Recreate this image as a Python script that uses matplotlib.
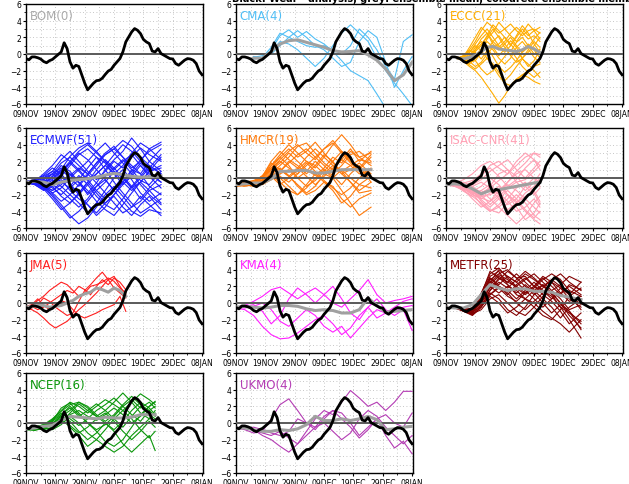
import matplotlib
matplotlib.use('Agg')
import matplotlib.pyplot as plt
from matplotlib.ticker import MultipleLocator

# analysis (black line), one value per day starting 09NOV
analysis = [-0.55, -0.7, -0.35, -0.35, -0.45, -0.6, -0.9, -1.05, -0.8, -0.65,
            -0.35, -0.05, 0.25, 1.35, 0.65, -0.95, -1.7, -1.35, -1.5, -2.5,
            -3.5, -4.3, -3.9, -3.5, -3.2, -3.15, -2.9, -2.45, -2.05, -1.85,
            -1.35, -0.95, -0.55, 0.25, 1.45, 2.05, 2.65, 3.05, 2.85, 2.45,
            1.75, 1.45, 1.25, 0.35, 0.25, 0.65, 0.05, -0.15, -0.35, -0.55,
            -0.6, -1.15, -1.35, -1.05, -0.75, -0.55, -0.6, -0.75, -1.15, -2.05, -2.5]
date_labels = ['09NOV', '19NOV', '29NOV', '09DEC', '19DEC', '29DEC', '08JAN']
date_pos = [0, 10, 20, 30, 40, 50, 60]

# CMA
cma_days = [6, 9, 12, 15, 18, 21, 24, 27, 30, 33, 36, 39, 42, 45, 48, 51, 54, 57, 60]
cma_mean = [-0.5, -0.5, 0.3, 1.2, 1.6, 1.7, 1.4, 1.1, 0.8, 0.4, 0.25, 0.3, 0.4, -0.1, -0.75, -1.8, -3.2, -2.5, -1.0]
cma_members = [
    [-0.5, -0.6, 0.5, 2.2, 2.9, 2.0, 2.7, 1.8, 1.2, 0.3, -0.8, -2.0, -2.6, -3.2, -4.8, -6.5, -7.0, -7.0, -7.0],
    [-0.3, -0.5, 0.3, 1.5, 1.2, 0.5, -0.5, -1.5, -0.5, 1.0, 2.5, 3.5, 2.5, 1.5, -0.5, -2.0, -3.5, -4.8, -6.2],
    [-0.6, -0.4, 0.8, 2.5, 2.0, 2.8, 2.0, 1.0, 0.5, -0.5, -1.5, -1.0, 1.5, 2.8, 2.0, -1.0, -4.0, -2.0, -0.3],
    [-0.4, -0.2, 0.0, 1.0, 2.0, 1.5, 1.0, 0.8, 1.0, 0.5, 0.0, 1.0, 3.0, 2.0, 0.5, -1.5, -3.0, 1.5, 2.3],
]

# ECCC
eccc_days = [4, 6, 8, 10, 12, 14, 16, 18, 20, 22, 24, 26, 28, 30, 32]
eccc_mean = [-0.5, -0.6, -0.4, -0.2, 0.3, 0.8, 0.9, 0.6, 0.5, 0.4, 0.3, 0.5, 0.9, 0.6, 0.2]
eccc_members = [
    [-0.5, -0.2, 0.5, 1.5, 2.8, 3.8, 3.2, 2.5, 3.0, 3.6, 2.8, 2.2, 2.8, 3.0, 2.5],
    [-0.6, -0.8, -0.3, 0.5, 1.8, 2.5, 1.5, 0.8, 1.5, 2.5, 3.2, 2.6, 1.8, 2.2, 1.5],
    [-0.4, -0.5, -1.0, -0.8, 0.2, 1.0, 0.5, -0.5, -1.2, -0.5, 0.8, 1.5, 0.6, -0.4, -1.0],
    [-0.5, -0.9, -1.5, -2.0, -2.8, -3.8, -4.8, -5.9, -5.0, -3.8, -3.0, -2.5, -2.0, -1.5, -1.2],
    [-0.6, -0.4, 0.2, 1.0, 0.4, -0.5, -1.5, -2.6, -3.5, -3.8, -3.2, -2.5, -2.8, -3.3, -3.6],
    [-0.5, -0.3, 0.8, 2.0, 3.2, 2.5, 1.2, 0.5, 1.2, 2.0, 1.0, 0.2, 0.8, 1.8, 2.6],
    [-0.4, -0.6, -0.2, 0.8, 1.5, 0.8, -0.3, -1.5, -2.2, -1.6, -0.8, 0.3, 1.2, 0.5, -0.5],
    [-0.5, -0.7, -1.2, -0.5, 0.5, 1.8, 2.6, 3.8, 3.0, 2.2, 1.5, 2.5, 3.6, 2.8, 1.8],
    [-0.6, -0.5, 0.0, -0.8, -1.8, -2.5, -2.0, -1.2, -0.3, 0.5, -0.5, -1.5, -2.2, -2.8, -2.2],
    [-0.5, -0.2, 0.4, 0.2, -0.6, 0.4, 1.5, 2.2, 1.2, 0.3, 1.4, 2.0, 1.0, 0.0, 0.6],
    [-0.4, -0.8, -0.5, 0.5, 1.2, 2.0, 3.0, 2.0, 0.8, -0.2, -1.0, -0.5, 0.5, 1.5, 0.8],
    [-0.5, -0.4, -0.9, -1.5, -1.0, 0.0, 0.8, 1.2, 2.0, 1.2, 0.3, -0.5, 0.2, 1.0, 2.0],
    [-0.5, -0.3, 0.2, 1.2, 2.2, 3.0, 2.0, 1.0, 0.2, 1.0, 2.2, 3.4, 2.5, 1.2, 0.2],
    [-0.6, -0.7, -0.8, -0.2, 0.6, 1.5, 0.8, -0.2, 0.6, 1.6, 0.8, -0.5, -1.5, -0.8, 0.5],
    [-0.4, -0.5, -0.2, 0.3, 1.0, 2.2, 3.5, 2.8, 2.0, 1.0, 2.0, 3.0, 2.2, 2.8, 3.2],
    [-0.5, -0.8, -1.3, -1.8, -1.2, -0.5, -1.2, -2.2, -3.2, -2.5, -1.5, -0.6, -1.2, -2.0, -2.8],
]

# ECMWF
ecmwf_days = [0, 3, 6, 9, 12, 15, 18, 21, 24, 27, 30, 33, 36, 39, 42, 46]
ecmwf_mean = [-0.5, -0.4, -0.5, -0.8, -0.5, -0.3, -0.2, -0.1, 0.1, 0.35, 0.55, 0.4, 0.2, 0.1, 0.15, 0.25]
ecmwf_members = [
    [-0.5, -0.3, -0.5, 0.5, 1.8, 2.5, 1.5, 0.5, 1.8, 3.0, 3.8, 2.5, 1.2, 2.0, 3.5, 4.3],
    [-0.5, -0.6, -1.2, -2.0, -3.2, -4.5, -5.5, -4.8, -3.5, -2.0, -1.0, -2.2, -3.5, -2.8, -1.5, -0.8],
    [-0.4, -0.2, 0.3, 1.2, 0.5, -0.8, -1.8, -0.5, 1.0, 2.2, 1.2, 0.0, -1.2, -0.5, 0.8, 1.5],
    [-0.6, -0.8, -1.5, -1.0, 0.2, 1.5, 2.8, 3.5, 2.5, 1.0, -0.5, -1.8, -3.0, -4.2, -3.5, -2.5],
    [-0.5, -0.4, -0.2, -1.0, -2.2, -3.0, -2.0, -0.8, 0.5, 1.5, 2.8, 4.0, 3.2, 2.0, 0.8, 1.2],
    [-0.5, -0.7, -0.9, 0.2, 1.5, 0.8, -0.5, -1.5, -2.8, -3.8, -4.5, -3.2, -1.8, -0.5, -1.5, -3.0],
    [-0.4, -0.3, 0.2, 0.8, 2.2, 3.2, 2.0, 0.8, -0.2, 0.8, 2.0, 1.2, 2.5, 3.6, 2.8, 2.0],
    [-0.5, -0.6, -1.0, -1.8, -1.2, 0.0, 1.0, 2.0, 3.2, 4.2, 3.0, 1.8, 0.5, -0.8, -2.0, -3.2],
    [-0.6, -0.5, -0.2, -0.8, -1.5, -2.5, -3.5, -2.5, -1.0, -0.2, -1.5, -2.8, -4.0, -4.6, -3.8, -4.2],
    [-0.5, -0.4, -0.6, 0.0, 0.8, 1.8, 0.8, -0.3, 0.5, 1.5, 0.5, -0.8, 0.2, 1.5, 0.5, -0.5],
    [-0.4, -0.6, -1.3, -2.5, -3.8, -3.0, -1.8, -0.5, -1.8, -3.0, -2.0, -0.5, 1.0, 0.5, -1.0, -2.0],
    [-0.5, -0.3, 0.0, 0.5, -0.5, -1.2, -0.2, 1.2, 2.5, 1.8, 0.5, 1.5, 3.0, 4.2, 3.5, 2.2],
    [-0.5, -0.7, -0.5, -1.2, -2.0, -1.0, 0.3, -0.8, -2.2, -3.2, -3.8, -2.5, -1.0, 0.2, 1.5, 0.5],
    [-0.6, -0.4, 0.5, 1.5, 2.8, 2.0, 3.2, 4.0, 3.0, 2.0, 0.8, -0.5, -1.5, -0.5, 0.8, 2.5],
    [-0.5, -0.5, -0.8, -0.3, -1.0, -2.0, -3.0, -4.2, -3.0, -1.5, 0.0, 1.0, -0.2, -1.8, -2.8, -1.8],
    [-0.4, -0.5, -1.0, -1.5, -0.5, 0.5, -0.5, -2.0, -1.0, 0.2, 1.2, 2.2, 1.0, -0.3, -0.8, 0.8],
    [-0.5, -0.3, -0.6, 0.2, 1.0, 0.0, -1.0, 0.3, 1.5, 2.8, 3.5, 2.5, 1.5, 0.5, 2.0, 3.5],
    [-0.5, -0.8, -1.4, -0.6, -0.2, -1.5, -2.5, -3.2, -4.2, -3.0, -2.2, -3.5, -4.5, -3.2, -2.2, -3.8],
    [-0.5, -0.4, -0.9, -1.8, -2.8, -2.0, -0.8, 0.5, 1.8, 2.8, 3.5, 4.5, 3.8, 2.5, 1.5, 0.5],
    [-0.6, -0.5, 0.0, 0.8, 0.2, -0.8, -2.0, -3.2, -4.5, -3.5, -2.0, -0.8, 0.5, 1.8, 0.8, -0.5],
    [-0.4, -0.6, -0.3, -0.8, 0.5, 1.8, 3.0, 2.2, 1.0, -0.2, -1.5, -0.5, 0.8, 2.2, 3.2, 4.0],
    [-0.5, -0.3, -0.8, -1.5, -0.8, 0.3, 1.2, 0.5, -0.6, -1.8, -3.0, -4.2, -3.5, -2.2, -3.2, -4.5],
    [-0.5, -0.6, -0.2, 0.5, 1.2, 0.5, -0.6, -1.8, -0.6, 1.0, 2.2, 3.2, 4.8, 3.5, 2.0, 0.8],
    [-0.6, -0.7, -1.2, -0.5, 0.8, 2.0, 1.0, -0.2, -1.5, -2.5, -1.2, 0.2, -1.0, -2.5, -1.2, 0.2],
    [-0.4, -0.5, -1.1, -2.2, -3.5, -4.8, -4.0, -2.8, -1.5, -0.5, 0.8, 0.0, -1.2, 0.0, 1.2, 2.8],
    [-0.5, -0.4, -0.4, -0.2, 1.0, 2.6, 3.6, 4.2, 3.2, 2.0, 1.0, 2.0, 2.8, 1.5, 0.2, -1.2],
]

# HMCR
hmcr_days = [0, 3, 6, 9, 12, 15, 18, 21, 24, 27, 30, 33, 36, 39, 42, 46]
hmcr_mean = [-0.8, -0.7, -0.6, -0.6, -0.1, 0.8, 0.8, 0.9, 0.9, 0.6, 0.6, 0.8, 1.0, 1.0, 1.0, 1.0]
hmcr_members = [
    [-0.8, -0.5, -0.3, 0.2, 1.5, 2.8, 4.0, 3.0, 2.0, 1.2, 2.5, 4.0, 5.2, 4.0, 2.5, 1.5],
    [-0.9, -1.0, -0.8, -0.5, 0.0, 1.0, 0.2, -0.8, -1.8, -1.0, 0.5, 1.5, 0.8, -0.5, -1.5, -0.5],
    [-0.7, -0.6, -0.4, -0.8, -0.2, 0.8, 1.8, 2.8, 3.5, 2.5, 1.5, 0.5, 1.5, 2.8, 3.2, 2.0],
    [-1.0, -0.8, -1.0, -0.6, 0.3, -0.5, -1.5, -2.0, -1.2, 0.0, 1.0, 0.0, -1.5, -3.0, -4.5, -3.5],
    [-0.8, -0.7, -0.5, 0.0, 1.2, 2.0, 1.2, 0.5, 1.5, 2.5, 3.5, 4.2, 3.0, 1.8, 0.8, 0.2],
    [-0.6, -0.8, -0.7, -0.3, 0.5, 1.5, 2.5, 3.8, 4.2, 3.0, 1.8, 1.0, 2.2, 1.5, 0.5, 1.0],
    [-0.9, -0.7, -0.6, -0.2, 0.8, 0.2, -0.5, 0.5, 1.8, 0.8, -0.3, -1.2, -2.0, -1.2, 0.0, 1.2],
    [-0.8, -0.9, -0.5, 0.2, 2.0, 3.2, 2.2, 1.5, 0.5, 1.5, 2.8, 2.0, 0.5, -0.5, -1.8, -1.5],
    [-0.7, -0.6, -0.9, -0.5, -0.2, 0.5, 1.0, 0.0, -1.0, -0.3, 0.8, 2.0, 3.2, 2.2, 1.0, 2.5],
    [-1.0, -0.8, -0.6, 0.1, 1.0, 1.8, 3.0, 2.0, 1.0, 0.3, 1.2, 2.5, 1.8, 3.2, 2.5, 3.0],
    [-0.8, -0.7, -0.8, -0.4, 0.6, 0.0, -1.0, -2.0, -0.8, 0.5, -0.5, -1.5, -3.0, -2.2, -0.8, 0.2],
    [-0.9, -0.6, -0.4, 0.0, 1.5, 2.5, 3.5, 2.5, 3.2, 4.3, 3.0, 1.8, 0.8, 1.5, 2.2, 1.8],
    [-0.8, -0.9, -0.7, -0.2, 0.2, -0.8, 0.0, 1.0, 2.0, 1.5, 0.5, 0.0, 1.0, 0.0, -0.8, -1.2],
    [-0.8, -0.6, -0.5, 0.0, 1.0, 2.2, 3.2, 4.0, 3.0, 2.2, 3.5, 4.5, 3.2, 2.0, 1.2, 2.8],
    [-0.9, -0.8, -0.6, -0.3, 0.5, 1.2, 0.3, -1.0, -2.0, -1.5, -0.5, -1.0, -2.5, -3.5, -2.5, -1.8],
    [-0.7, -0.8, -0.5, 0.2, 1.8, 1.0, 0.2, 1.2, 2.5, 3.5, 2.5, 1.5, 0.5, 1.0, 1.8, 0.5],
    [-0.8, -0.7, -0.9, -0.6, 0.0, 0.8, 2.0, 1.2, 0.2, -0.8, 0.2, 1.2, 2.2, 3.5, 2.0, 3.2],
    [-0.9, -0.7, -0.5, 0.3, 1.2, 2.5, 1.5, 0.0, 0.8, 2.0, 1.0, 0.3, -0.8, 0.5, 1.5, -0.5],
]

# ISAC-CNR
isac_days = [0, 3, 6, 9, 12, 15, 18, 21, 24, 27, 30, 32]
isac_mean = [-0.8, -0.7, -0.8, -1.3, -1.9, -1.5, -1.4, -1.2, -1.0, -0.8, -0.6, -0.5]
isac_members = [
    [-0.8, -0.6, -0.2, 0.5, 1.5, 2.0, 1.2, 0.5, 1.5, 2.5, 3.0, 2.5],
    [-0.8, -1.0, -1.5, -2.2, -3.0, -4.0, -3.2, -2.0, -2.8, -4.0, -5.0, -5.5],
    [-0.7, -0.8, -1.0, -0.8, -0.2, 0.8, 1.5, 2.2, 1.0, 0.0, 1.2, 2.0],
    [-0.9, -0.8, -1.2, -2.0, -2.5, -1.8, -1.0, -2.0, -3.5, -5.0, -4.2, -3.0],
    [-0.8, -0.7, -0.5, -1.0, -1.8, -1.2, -0.3, 0.5, 2.0, 3.0, 2.2, 1.0],
    [-0.8, -0.9, -1.3, -1.8, -1.5, -2.5, -3.5, -4.5, -5.5, -4.5, -3.0, -2.2],
    [-0.7, -0.6, -0.8, -1.5, -2.2, -1.0, 0.5, 1.0, 0.2, -1.0, -2.0, -1.2],
    [-0.9, -0.8, -1.0, -1.2, -2.0, -3.2, -2.2, -1.2, -0.5, -1.5, -0.5, 0.5],
    [-0.8, -1.0, -1.4, -2.5, -3.5, -2.8, -1.5, -0.5, 0.8, 1.8, 3.0, 2.8],
    [-0.8, -0.7, -1.2, -1.6, -1.0, 0.0, -0.8, -2.0, -3.0, -2.2, -1.5, -2.8],
    [-0.7, -0.9, -1.1, -1.4, -2.8, -3.8, -4.2, -3.0, -2.0, -3.0, -4.5, -5.0],
    [-0.9, -0.8, -0.9, -0.5, 0.2, 1.5, 2.0, 1.0, -0.5, -0.2, 0.8, 1.5],
    [-0.8, -0.8, -1.6, -2.2, -1.8, -1.2, -2.0, -3.2, -2.5, -1.0, 0.0, -0.5],
    [-0.8, -0.7, -1.0, -1.8, -2.2, -2.0, -1.5, -0.8, -1.5, -2.5, -3.5, -4.2],
    [-0.8, -0.8, -1.0, -1.5, -2.6, -3.5, -2.5, -1.5, -2.5, -3.8, -4.8, -4.0],
    [-0.7, -0.8, -0.6, -0.3, 0.5, 1.2, 0.2, -1.0, -0.2, 1.2, 2.2, 1.5],
    [-0.9, -0.9, -1.3, -2.0, -1.5, -0.8, -1.8, -2.8, -4.0, -3.5, -2.5, -3.5],
    [-0.8, -0.7, -1.1, -1.6, -2.4, -2.8, -2.0, -0.5, 0.5, 1.0, 0.0, -1.0],
    [-0.8, -0.9, -1.2, -1.0, -0.5, -1.2, -2.5, -3.8, -3.0, -1.8, -1.0, 0.0],
    [-0.7, -0.8, -1.0, -1.8, -3.2, -4.0, -3.5, -2.5, -1.2, -0.5, -1.8, -3.2],
]

# JMA
jma_days = [0, 2, 4, 6, 8, 10, 12, 14, 16, 18, 20, 22, 24, 26, 28, 30, 32, 34]
jma_mean = [-0.5, -0.4, -0.3, -0.3, -0.5, -0.4, -0.3, 0.0, 0.3, 0.8, 1.1, 1.3, 1.8, 1.6, 1.3, 1.8, 1.5, 0.8]
jma_members = [
    [-0.5, -0.3, 0.3, 0.8, 1.5, 2.0, 2.5, 2.2, 1.5, 0.8, 1.2, 2.0, 2.2, 2.5, 3.0, 2.6, 1.8, 1.2],
    [-0.6, -0.8, -1.2, -1.8, -2.5, -3.0, -2.6, -2.2, -1.5, -0.8, -0.2, 0.5, 1.2, 2.0, 2.8, 3.2, 2.0, 1.0],
    [-0.4, -0.2, 0.5, -0.3, -0.8, -0.2, 0.3, 0.0, -0.8, -1.5, -1.8, -1.5, -1.2, -0.8, -0.5, -0.2, 0.8, -1.0],
    [-0.5, -0.6, -0.2, 0.6, 0.2, -0.5, -1.0, -1.5, -1.2, 0.2, 1.5, 2.2, 3.0, 3.7, 2.8, 1.8, 1.2, 0.6],
    [-0.6, -0.4, -0.8, -0.5, 0.0, 0.5, 1.0, 1.5, 1.2, 2.0, 1.6, 1.0, 2.0, 2.8, 2.2, 3.0, 2.5, 1.6],
]

# KMA
kma_days = [0, 3, 6, 9, 12, 15, 18, 21, 24, 27, 30, 33, 36, 39, 42, 45, 48, 51, 54, 57, 60]
kma_mean = [-0.5, -0.4, -0.5, -0.6, -0.5, -0.3, -0.3, -0.4, -0.7, -0.9, -0.8, -0.9, -1.2, -1.2, -0.8, 0.6, -0.3, -1.1, -1.0, -0.9, -0.8]
kma_members = [
    [-0.5, -0.3, 0.2, 0.8, 1.6, 1.9, 1.2, 0.5, 1.2, 1.8, 1.0, 0.0, -0.5, 0.5, 1.5, 2.8, 1.0, 0.0, 0.3, 0.5, 0.8],
    [-0.6, -0.8, -1.5, -2.8, -3.8, -4.3, -4.2, -3.6, -2.8, -2.0, -1.5, -2.5, -3.8, -3.0, -1.5, -0.5, -1.8, -1.2, -0.5, 0.2, 0.5],
    [-0.5, -0.4, -0.2, -1.0, -2.5, -1.5, 0.5, 1.8, 1.0, 0.0, 1.0, 2.0, 0.5, -1.2, -2.0, -0.5, 0.5, -0.8, -1.5, -0.8, -3.3],
    [-0.5, -0.6, -0.4, 0.0, -0.8, -2.2, -2.8, -1.8, -0.8, -1.5, -2.8, -3.5, -2.8, -4.2, -3.0, -1.8, -0.8, -1.2, -1.0, -0.5, -0.3],
]

# METFR
metfr_days = [0, 3, 6, 9, 12, 15, 18, 21, 24, 27, 30, 33, 36, 39, 42, 46]
metfr_mean = [-0.5, -0.6, -0.6, -0.2, 1.0, 2.2, 1.8, 1.5, 1.7, 1.7, 1.4, 1.4, 1.3, 0.9, 0.7, 0.4]
metfr_members = [
    [-0.5, -0.4, -0.8, -1.2, 0.5, 2.5, 4.0, 3.2, 2.5, 3.5, 2.8, 2.0, 2.8, 3.5, 2.5, 1.5],
    [-0.6, -0.5, -1.0, -1.5, -0.5, 1.5, 3.0, 2.2, 1.0, 0.5, 1.5, 2.2, 1.2, 0.0, -1.5, -3.0],
    [-0.5, -0.6, -0.7, -0.8, 0.8, 3.0, 2.0, 1.0, 2.2, 3.0, 2.0, 1.0, 0.2, -1.0, -2.5, -1.2],
    [-0.4, -0.5, -0.9, -1.0, 0.2, 1.8, 2.8, 3.8, 3.0, 2.0, 1.0, 1.8, 2.8, 2.0, 1.0, 2.5],
    [-0.5, -0.4, -0.6, -1.3, -0.8, 0.5, 1.0, 0.0, -1.0, -1.5, -0.5, 0.8, 1.5, 0.5, -0.8, -0.2],
    [-0.6, -0.5, -0.8, -0.6, 1.2, 3.5, 4.2, 3.0, 2.0, 1.2, 2.0, 3.2, 2.5, 1.2, 0.2, 0.8],
    [-0.5, -0.6, -1.0, -1.4, -0.2, 1.2, 0.5, -0.8, -1.5, -0.5, 1.0, 2.2, 1.0, -0.5, -2.0, -4.2],
    [-0.4, -0.5, -0.7, -0.9, 0.5, 2.2, 3.2, 2.5, 3.5, 2.5, 1.5, 0.5, -0.5, -1.8, -0.5, 0.5],
    [-0.5, -0.5, -0.9, -1.1, 0.0, 2.0, 1.2, 2.0, 1.5, 0.5, -0.5, -1.5, -2.0, -0.8, 0.8, 1.8],
    [-0.6, -0.4, -0.8, -1.2, 0.8, 2.8, 3.5, 4.0, 3.0, 3.2, 2.0, 1.5, 0.5, 1.2, 2.0, 1.0],
    [-0.5, -0.6, -0.7, -1.0, 0.3, 1.0, 2.0, 1.5, 0.5, 1.5, 2.5, 1.5, 0.8, -0.5, -1.2, -2.2],
    [-0.5, -0.5, -0.8, -1.3, 0.6, 2.6, 2.0, 1.2, 0.0, -0.8, 0.2, 1.2, 2.5, 1.8, 0.5, -0.5],
    [-0.4, -0.6, -0.9, -0.9, 1.0, 3.8, 3.0, 2.5, 2.0, 2.8, 3.5, 2.5, 1.5, 2.2, 3.2, 2.5],
    [-0.5, -0.5, -0.7, -1.1, -0.4, 0.8, 0.0, -1.2, -0.5, 0.5, 0.0, -1.0, -1.8, -2.5, -3.5, -2.0],
    [-0.5, -0.6, -0.8, -1.2, 0.4, 2.4, 3.4, 2.8, 1.8, 1.0, 1.8, 2.8, 3.5, 2.8, 1.5, 0.8],
    [-0.6, -0.5, -0.9, -1.0, 0.0, 1.5, 2.5, 1.8, 2.8, 3.8, 3.0, 2.0, 1.2, 0.0, -1.0, -2.5],
    [-0.4, -0.5, -0.7, -1.2, 0.7, 3.0, 2.2, 3.2, 2.5, 1.5, 0.5, -0.5, 0.5, 1.8, 1.0, -0.8],
    [-0.5, -0.6, -0.8, -1.4, -0.5, 1.0, 1.8, 0.8, 0.2, 1.2, 2.0, 3.0, 2.0, 1.0, 2.2, 1.6],
    [-0.5, -0.4, -0.6, -1.0, 1.1, 3.2, 3.8, 2.2, 1.2, 2.2, 1.2, 0.0, -1.2, -0.2, -1.0, -3.2],
]

# NCEP
ncep_days = [0, 3, 6, 9, 12, 15, 18, 21, 24, 27, 30, 33, 36, 39, 42, 44]
ncep_mean = [-0.7, -0.6, -0.4, -0.3, 0.3, 0.8, 0.7, 0.6, 0.5, 0.7, 0.6, 0.6, 0.7, 1.0, 1.0, 1.0]
ncep_members = [
    [-0.7, -0.5, -0.2, 0.5, 1.5, 2.5, 2.0, 1.2, 2.0, 2.8, 2.2, 1.5, 2.5, 3.5, 2.8, 2.2],
    [-0.8, -0.9, -0.6, -0.2, 0.8, 0.2, -1.0, -2.0, -1.2, 0.0, -1.0, -2.5, -3.5, -2.5, -1.5, -3.3],
    [-0.6, -0.7, -0.5, 0.2, 1.8, 2.4, 1.2, 0.0, -1.0, -2.2, -2.8, -2.0, -0.5, 1.0, 2.0, 2.6],
    [-0.7, -0.6, -0.8, -0.5, 0.0, 1.2, 2.3, 1.5, 0.8, 1.5, 2.5, 3.6, 2.5, 1.2, 0.5, 1.5],
    [-0.8, -0.6, -0.4, 0.0, 0.5, -0.5, -1.5, -2.8, -2.0, -0.8, 0.5, 1.5, 0.5, -0.8, -1.8, -1.0],
    [-0.7, -0.8, -0.5, -0.3, 1.0, 1.8, 0.8, 1.5, 2.3, 1.5, 0.5, -0.5, 0.8, 2.0, 1.0, 0.5],
    [-0.6, -0.5, -0.2, 0.3, 1.2, 0.5, -0.3, 0.5, 1.5, 2.2, 3.0, 2.0, 1.0, 0.2, 1.5, 2.0],
    [-0.8, -0.7, -0.6, -0.8, -0.2, 0.8, 0.0, -1.2, -2.0, -2.8, -3.5, -2.8, -1.5, -0.5, 0.5, 1.2],
    [-0.7, -0.6, -0.3, 0.0, 0.8, 1.5, 2.5, 2.0, 1.0, 0.2, 1.0, 2.2, 3.2, 2.2, 1.5, 0.8],
    [-0.7, -0.8, -0.7, -0.2, 0.5, 1.0, 1.5, 0.8, 0.3, 1.0, 1.8, 1.0, 0.0, 0.8, 2.0, 2.5],
    [-0.7, -0.6, -0.4, 0.2, 1.0, 2.0, 1.0, 0.0, -0.8, -0.2, 0.8, 2.0, 2.8, 1.8, 2.5, 1.8],
    [-0.8, -0.7, -0.5, -0.1, 0.3, -0.3, -1.2, -0.5, 0.5, 1.2, 0.2, -1.0, -2.0, -1.0, 0.2, -0.5],
    [-0.6, -0.7, -0.3, 0.4, 1.4, 2.2, 2.5, 1.8, 0.8, 0.0, -0.8, 0.2, 1.5, 2.5, 1.8, 1.0],
]

# UKMO
ukmo_days = [0, 3, 6, 9, 12, 15, 18, 21, 24, 27, 30, 33, 36, 39, 42, 45, 48, 51, 54, 57, 60]
ukmo_mean = [-0.6, -0.6, -0.8, -1.0, -1.0, -0.8, -0.9, -0.7, -0.2, 0.8, 0.3, 0.3, 0.5, 0.3, 0.5, 0.8, 0.4, -0.8, -0.7, -0.5, -0.4]
ukmo_members = [
    [-0.6, -0.8, -1.2, -1.0, 0.5, 2.2, 2.9, 1.5, 0.0, -0.5, 0.8, 1.5, 1.2, 0.0, -1.5, -0.5, 0.5, -1.5, -3.0, -2.2, -3.7],
    [-0.6, -0.4, -0.8, -1.5, -2.0, -2.8, -3.5, -2.5, -1.0, 0.5, 1.5, 1.0, 2.5, 3.9, 3.0, 2.0, 2.5, 1.5, 2.5, 3.8, 3.8],
    [-0.5, -0.7, -0.5, -0.8, -1.2, -1.5, -1.0, 0.5, 0.0, -0.8, 0.5, 1.5, 0.5, -0.5, -1.8, -0.8, 0.5, 1.0, 0.0, -0.5, 1.2],
    [-0.6, -0.5, -0.9, -1.2, -1.5, -1.0, -1.8, -2.5, -1.5, -0.5, 0.0, -1.0, -2.0, -1.2, 0.5, 1.5, 0.8, -0.5, -1.5, -2.5, -1.5],
]

# panel table: label, colour, days, mean, members
panels = [
    ('BOM(0)', '#aaaaaa', None, None, []),
    ('CMA(4)', '#50bef5', cma_days, cma_mean, cma_members),
    ('ECCC(21)', '#ffad00', eccc_days, eccc_mean, eccc_members),
    ('ECMWF(51)', '#1e1eff', ecmwf_days, ecmwf_mean, ecmwf_members),
    ('HMCR(19)', '#ff7a0a', hmcr_days, hmcr_mean, hmcr_members),
    ('ISAC-CNR(41)', '#ffa0b4', isac_days, isac_mean, isac_members),
    ('JMA(5)', '#ff1e1e', jma_days, jma_mean, jma_members),
    ('KMA(4)', '#ff1eff', kma_days, kma_mean, kma_members),
    ('METFR(25)', '#820000', metfr_days, metfr_mean, metfr_members),
    ('NCEP(16)', '#0a960a', ncep_days, ncep_mean, ncep_members),
    ('UKMO(4)', '#b43cb4', ukmo_days, ukmo_mean, ukmo_members),
]

W, H = 629, 485
fig = plt.figure(figsize=(W / 100, H / 100), dpi=100)

col_left = [26, 236, 446]
row_top = [5, 129, 254, 374]
pw, ph = 177, 100

day_axis = list(range(len(analysis)))

for k, (label, color, days, mean, members) in enumerate(panels):
    r, c = divmod(k, 3)
    ax = fig.add_axes([col_left[c] / W, 1 - (row_top[r] + ph) / H, pw / W, ph / H])

    # ensemble members
    for m in members:
        ax.plot(days, m, color=color, lw=0.8, zorder=2)
    ax.axhline(0, color='#5a5a5a', lw=1.4, zorder=3)
    if mean is not None:
        ax.plot(days, mean, color='#a0a0a0', lw=2.2, zorder=4)
    ax.plot(day_axis, analysis, color='black', lw=2.0, zorder=5)

    ax.set_xlim(0, 60.3)
    ax.set_ylim(-6, 6)
    ax.set_xticks(date_pos)
    ax.set_xticklabels(date_labels)
    ax.xaxis.set_minor_locator(MultipleLocator(5))
    ax.set_yticks([-6, -4, -2, 0, 2, 4, 6])
    ax.set_yticklabels(['\u22126', '\u22124', '\u22122', '0', '2', '4', '6'])
    ax.yaxis.set_minor_locator(MultipleLocator(1))
    ax.tick_params(which='major', length=2.5, width=0.8, labelsize=5.5, pad=1)
    ax.tick_params(which='minor', length=1.5, width=0.6)
    ax.grid(which='both', color='#b4b4b4', linestyle=(0, (1, 3)), lw=0.6, zorder=0)
    for s in ax.spines.values():
        s.set_linewidth(1.0)

    ax.text(0.02, 0.95, label, transform=ax.transAxes, color=color,
            fontsize=8.5, va='top', ha='left', zorder=6)

fig.text(232 / W, 1 - 2 / H, 'Black: Wear - analysis, grey: ensemble mean, coloured: ensemble members',
         fontsize=7, fontweight='bold', va='baseline', ha='left')

plt.savefig('out.png', dpi=100)
